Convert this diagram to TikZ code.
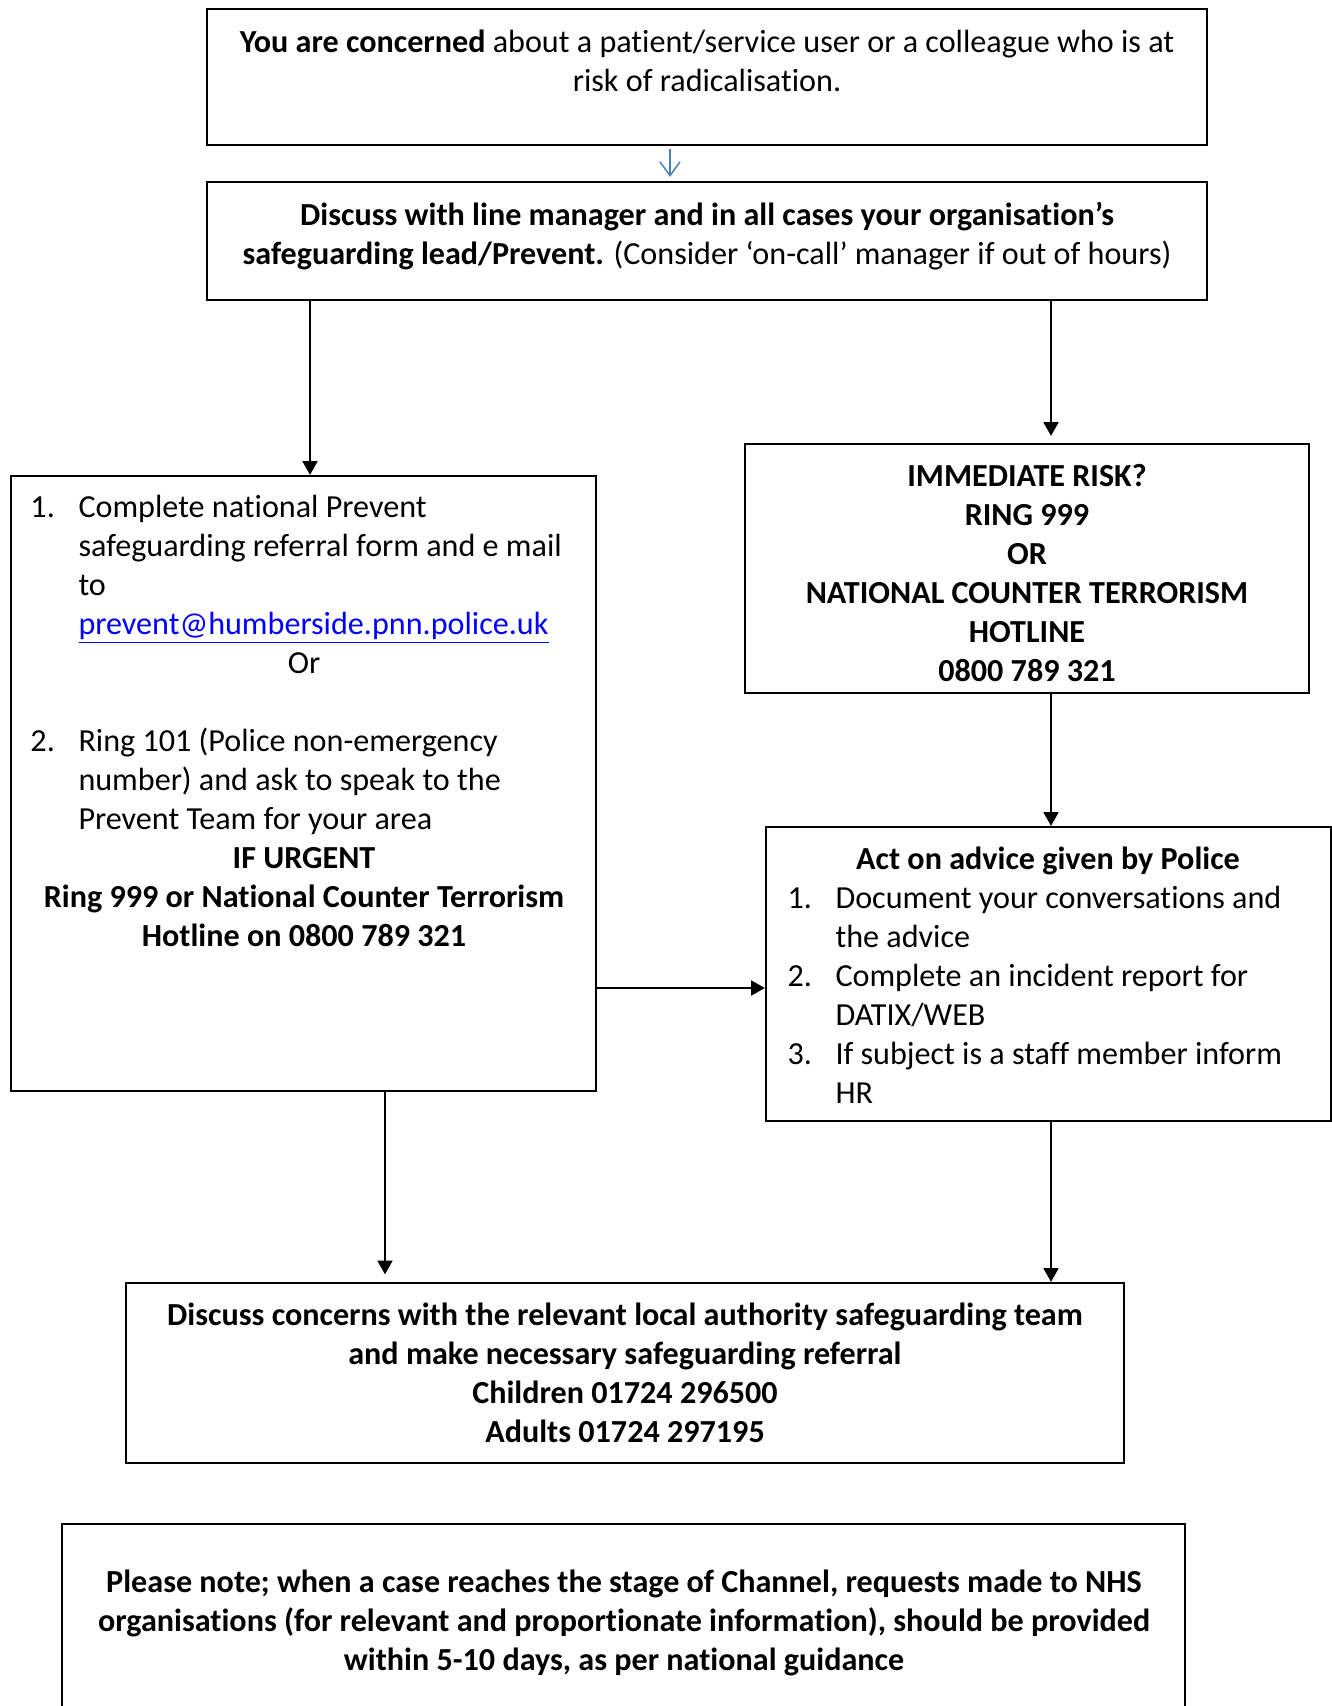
\documentclass[tikz,border=0pt]{standalone}
\usepackage{fontspec}
\setmainfont{Carlito}[Ligatures=NoCommon]
\usetikzlibrary{arrows.meta,fit}
\definecolor{arrowblue}{RGB}{74,126,187}
\definecolor{linkblue}{RGB}{0,0,255}
\newcommand{\fsz}{\fontsize{12.85}{15.6}\selectfont}
\newcommand{\fszb}{\fontsize{12.85}{15.6}\selectfont\bfseries}
\begin{document}
\begin{tikzpicture}[x=0.4pt,y=-0.4pt,
  font=\fsz,
  boxstyle/.style={draw, line width=0.9pt, inner sep=0pt},
  txtc/.style={inner sep=0pt, anchor=base, align=flush center, text width=#1},
  txtl/.style={inner sep=0pt, anchor=base west, align=flush left, text width=#1},
  numlbl/.style={inner sep=0pt, anchor=base west},
  arr/.style={-{Triangle[width=6pt,length=5.5pt]}, line width=0.7pt},
  bluearr/.style={-{Straight Barb[width=8pt,length=5.5pt]}, line width=0.6pt, draw=arrowblue}]
\useasboundingbox (0,0) rectangle (1332,1706);
\fill[white] (0,0) rectangle (1332,1706);

% boxes
\node[boxstyle, fit={(207,9) (1207,145)}] (b1) {};
\node[boxstyle, fit={(207,182) (1207,300)}] (b2) {};
\node[boxstyle, fit={(11,476) (596,1091)}] (lb) {};
\node[boxstyle, fit={(745,444) (1309,693)}] (ir) {};
\node[boxstyle, fit={(766,827) (1331,1121)}] (act) {};
\node[boxstyle, fit={(126,1283) (1124,1463)}] (disc) {};
\node[boxstyle, fit={(62,1524) (1185,1730)}] (note) {};

% texts
\node[txtc=398pt] (t1) at (707,52) {\textbf{You are concerned} about a patient/service user or a colleague who is at\\risk of radicalisation.};
\node[txtc=398pt] (t2) at (707,225) {\textbf{Discuss with line manager and in all cases your organisation’s}\\\textbf{safeguarding lead/Prevent.} (Consider ‘on-call’ manager if out of hours)};

\node[numlbl] (n1) at (30,517) {1.};
\node[txtl=225pt] (i1) at (78,517) {Complete national Prevent\\safeguarding referral form and e mail\\to\\\textcolor{linkblue}{\underline{prevent@humberside.pnn.police.uk}}};
\node[txtc=225pt] (or) at (304,673) {Or};
\node[numlbl] (n2) at (30,751) {2.};
\node[txtl=225pt] (i2) at (78,751) {Ring 101 (Police non-emergency\\number) and ask to speak to the\\Prevent Team for your area};
\node[txtc=228pt, font=\fszb] (urg) at (304,868) {IF URGENT\\Ring 999 or National Counter Terrorism\\Hotline on 0800 789 321};

\node[txtc=225pt, font=\fszb] (irt) at (1027,486) {IMMEDIATE RISK?\\RING 999\\OR\\NATIONAL COUNTER TERRORISM\\HOTLINE\\0800 789 321};

\node[txtc=225pt, font=\fszb] (actt) at (1048,869) {Act on advice given by Police};
\node[numlbl] (a1) at (787,908) {1.};
\node[txtl=215pt] (a1t) at (835,908) {Document your conversations and\\the advice};
\node[numlbl] (a2) at (787,986) {2.};
\node[txtl=215pt] (a2t) at (835,986) {Complete an incident report for\\DATIX/WEB};
\node[numlbl] (a3) at (787,1064) {3.};
\node[txtl=215pt] (a3t) at (835,1064) {If subject is a staff member inform\\HR};

\node[txtc=395pt, font=\fszb] (disct) at (625,1325) {Discuss concerns with the relevant local authority safeguarding team\\and make necessary safeguarding referral\\Children 01724 296500\\Adults 01724 297195};

\node[txtc=445pt, font=\fszb] (notet) at (624,1592) {Please note; when a case reaches the stage of Channel, requests made to NHS\\organisations (for relevant and proportionate information), should be provided\\within 5-10 days, as per national guidance};

% connector positions
\coordinate (xa) at (670,0);
\coordinate (xl) at (310,0);
\coordinate (xr) at (1051,0);
\coordinate (xd) at (385,0);
\coordinate (yh) at (0,988);

% connectors
\draw[bluearr, shorten <=1pt, shorten >=1.6pt] (b1.south -| xa) -- (b2.north -| xa);
\draw[arr] (b2.south -| xl) -- (lb.north -| xl);
\draw[arr, shorten >=2.8pt] (b2.south -| xr) -- (ir.north -| xr);
\draw[arr] (ir.south -| xr) -- (act.north -| xr);
\draw[arr] (lb.east |- yh) -- (act.west |- yh);
\draw[arr, shorten >=3pt] (lb.south -| xd) -- (disc.north -| xd);
\draw[arr] (act.south -| xr) -- (disc.north -| xr);
\end{tikzpicture}
\end{document}
